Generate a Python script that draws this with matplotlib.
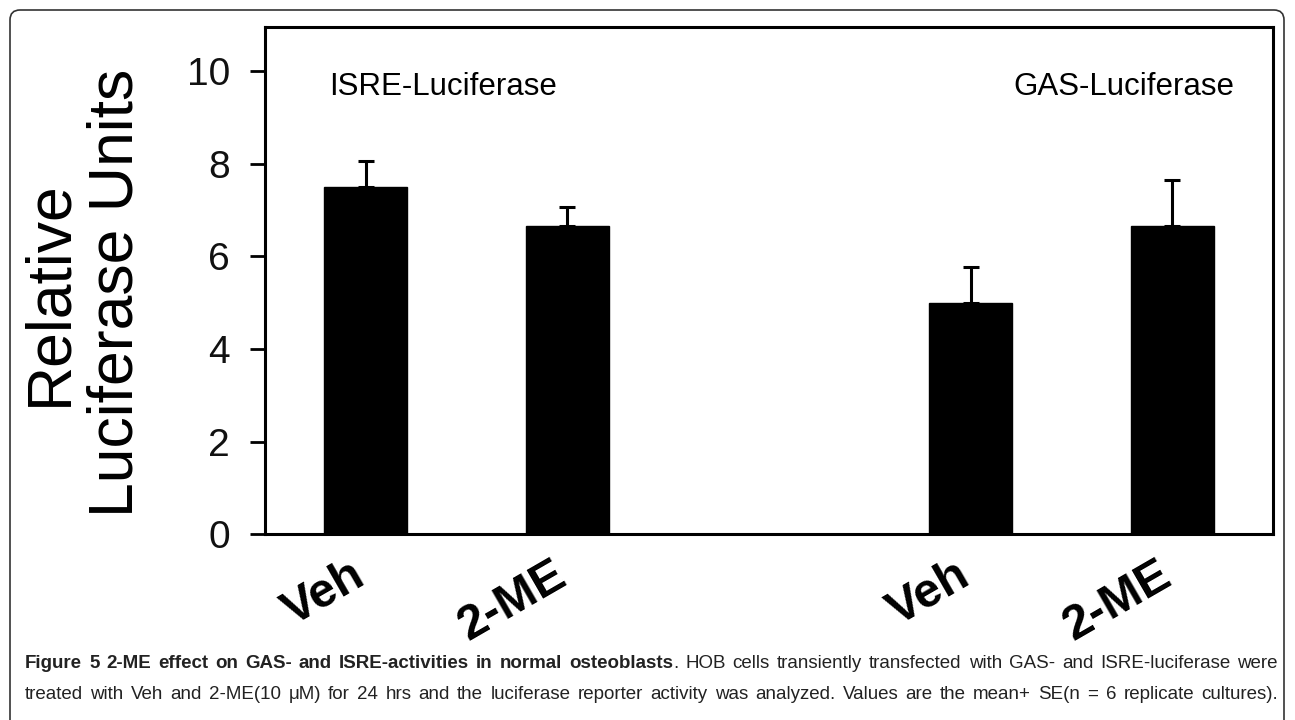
import matplotlib
matplotlib.use("Agg")
import matplotlib.pyplot as plt
import matplotlib.transforms as mtransforms
from matplotlib.patches import FancyBboxPatch

# data
labels = ["Veh", "2-ME", "Veh", "2-ME"]
positions = [0, 1, 3, 4]
means = [7.5, 6.65, 5.0, 6.65]
errors = [0.57, 0.42, 0.78, 1.0]
yticks = [0, 2, 4, 6, 8, 10]

caption_line1 = [
    [("Figure", "bold")], [("5", "bold")], [("2-ME", "bold")], [("effect", "bold")],
    [("on", "bold")], [("GAS-", "bold")], [("and", "bold")], [("ISRE-activities", "bold")],
    [("in", "bold")], [("normal", "bold")], [("osteoblasts", "bold"), (".", "normal")],
] + [[(w, "normal")] for w in "HOB cells transiently transfected with GAS- and ISRE-luciferase were".split()]
caption_line2 = [[(w, "normal")] for w in
                 "treated with Veh and 2-ME(10 \u03bcM) for 24 hrs and the luciferase reporter activity was analyzed. Values are the mean+ SE(n = 6 replicate cultures).".split()]

plt.rcParams['font.family'] = ['Liberation Sans', 'DejaVu Sans']

fig = plt.figure(figsize=(12.95, 7.2), dpi=100)
ax = fig.add_axes([0.2046, 0.2583, 0.983 - 0.2046, 0.9625 - 0.2583])

ax.bar(positions, means, width=0.41, color="black", edgecolor="black", zorder=2)
ax.errorbar(positions, means, yerr=[[0] * len(errors), errors], fmt="none",
            ecolor="black", elinewidth=2.2, capsize=6, capthick=2.2, zorder=3)

ax.set_xlim(-0.5, 4.5)
ax.set_ylim(0, 10.96)
ax.set_yticks(yticks)
ax.set_yticklabels([str(t) for t in yticks], fontsize=28, color="#111111")
ax.tick_params(axis="y", direction="out", length=11, width=2, pad=14)
ax.set_xticks(positions)
ax.set_xticklabels(labels, rotation=30, ha="right", va="top", rotation_mode="anchor",
                   fontsize=35, fontweight="bold")
ax.tick_params(axis="x", length=0, pad=13)
shift = mtransforms.ScaledTranslation(-16 / 100, 0, fig.dpi_scale_trans)
for lab in ax.get_xticklabels():
    lab.set_transform(lab.get_transform() + shift)
for s in ax.spines.values():
    s.set_linewidth(2.2)

ax.text(-0.18, 9.66, "ISRE-Luciferase", fontsize=22.5, va="center", ha="left")
ax.text(4.31, 9.66, "GAS-Luciferase", fontsize=22.5, va="center", ha="right")

fig.text(50 / 1295, 1 - 293 / 720, "Relative", rotation=90, fontsize=45,
         ha="center", va="center")
fig.text(116 / 1295, 1 - 293 / 720, "Luciferase Units", rotation=90, fontsize=45,
         ha="center", va="center")

# outer rounded frame
frame = FancyBboxPatch((0.10, -0.5), 12.74, 7.6, boxstyle="round,pad=0,rounding_size=0.1",
                       transform=fig.dpi_scale_trans, fill=False, edgecolor="#333333",
                       linewidth=1.2)
fig.patches.append(frame)

# justified caption
renderer = fig.canvas.get_renderer()
cap_font = ['Liberation Sans', 'DejaVu Sans']
x_left, x_right = 25, 1278


def place_line(words, baseline_px, size):
    texts = []
    widths = []
    for word in words:
        pieces = []
        w = 0
        for txt, weight in word:
            t = fig.text(0, 0, txt, fontsize=size, fontweight=weight, family=cap_font,
                         color="#222222", va="baseline", ha="left")
            pw = t.get_window_extent(renderer).width
            pieces.append((t, pw))
            w += pw
        texts.append(pieces)
        widths.append(w)
    gap = (x_right - x_left - sum(widths)) / (len(words) - 1)
    x = x_left
    for pieces, w in zip(texts, widths):
        xx = x
        for t, pw in pieces:
            t.set_position((xx / 1295, 1 - baseline_px / 720))
            xx += pw
        x += w + gap


place_line(caption_line1, 668, 13.5)
place_line(caption_line2, 699, 13.5)

fig.savefig("out.png", dpi=100)
